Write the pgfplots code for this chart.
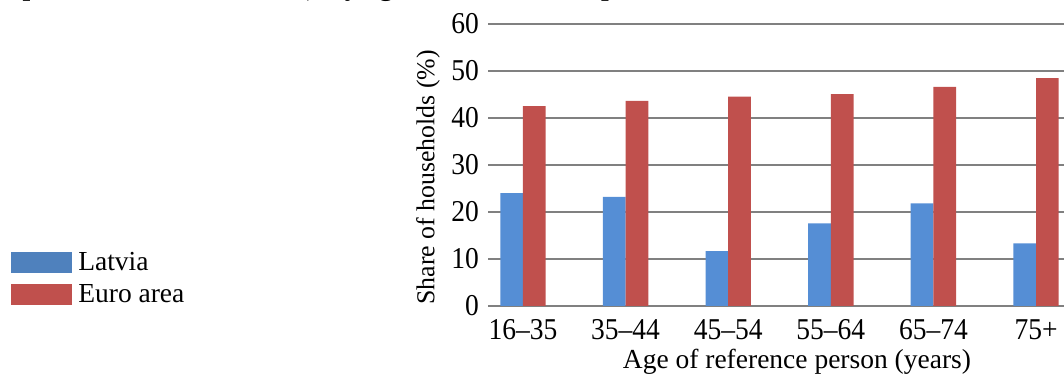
\documentclass[border=0pt]{standalone}
\usepackage{fontspec}
\setmainfont{Liberation Serif}
\usepackage{pgfplots}
\pgfplotsset{compat=1.18}
\definecolor{lvblue}{HTML}{558ED5}
\definecolor{lvlegend}{HTML}{4F81BD}
\definecolor{eured}{HTML}{C0504D}
\definecolor{gridgray}{HTML}{808080}
\newcommand{\fs}{\fontsize{27.5}{33}\selectfont}
\begin{document}
\begin{tikzpicture}[x=1pt,y=1pt]
\useasboundingbox (0,0) rectangle (1064,379);
\clip (0,0) rectangle (1064,379);
\node[anchor=base west, font=\fs\bfseries, inner sep=0pt] at (-84.6,383.5) {ownership rate for all households), by age of the reference person};
\begin{axis}[
  at={(488pt,73pt)}, anchor=south west,
  scale only axis, width=583pt, height=282pt,
  ybar=0pt, bar width=22.7pt,
  xmin=-0.341, xmax=5.341, ymin=0, ymax=60,
  xtick={0,...,5},
  xticklabels={16--35,35--44,45--54,55--64,65--74,75+},
  ytick={0,10,...,60},
  axis line style={draw=none},
  major tick length=0pt,
  ymajorgrids,
  grid style={gridgray, line width=1.1pt},
  /pgf/number format/assume math mode=true,
  tick label style={font=\fs, yscale=1.1},
  yticklabel style={anchor=east, inner sep=0pt, xshift=-9pt},
  xticklabel style={anchor=base, inner sep=0pt, yshift=-30.9pt},
  xlabel={Age of reference person (years)},
  xlabel style={font=\fs, at={(axis description cs:0.530,-0.2234)}, anchor=base, inner sep=0pt},
  ylabel={Share of households (\%)},
  ylabel style={font=\fontsize{25.8}{31}\selectfont, at={(axis description cs:-0.1029,0.4557)}, anchor=center, inner sep=0pt},
  legend style={at={(axis description cs:-0.818,0.098)}, anchor=west, draw=none, fill=none, font=\fs, inner sep=0pt, row sep=8.3pt, column sep=4pt},
  legend cell align=left,
]
\addplot[fill=lvblue, draw=none, legend image code/.code={\fill[lvlegend] (0pt,-10.25pt) rectangle (61pt,10.25pt);}]
  coordinates {(0,24.0) (1,23.2) (2,11.7) (3,17.6) (4,21.85) (5,13.3)};
\addplot[fill=eured, draw=none, legend image code/.code={\fill[eured] (0pt,-10.25pt) rectangle (61pt,10.25pt);}]
  coordinates {(0,42.55) (1,43.65) (2,44.55) (3,45.1) (4,46.6) (5,48.5)};
\legend{Latvia, Euro area}
\end{axis}
\end{tikzpicture}
\end{document}
